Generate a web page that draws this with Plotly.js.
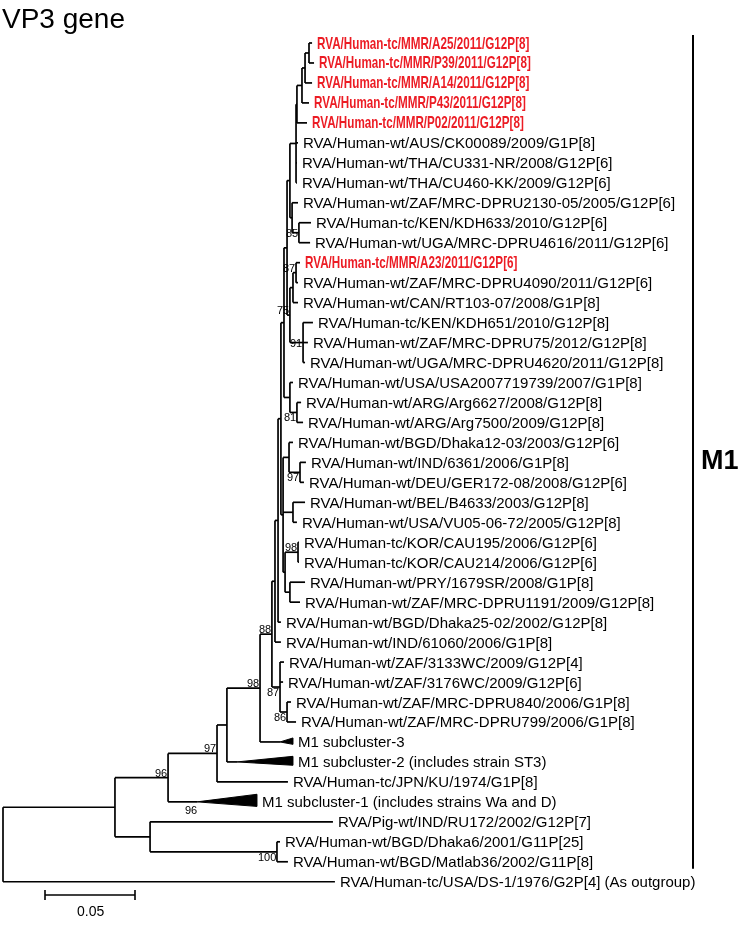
<!DOCTYPE html>
<html>
<head>
<meta charset="utf-8">
<script src="https://cdn.plot.ly/plotly-3.0.1.min.js"></script>
<style>
  body { margin: 0; background: #fff; }
  #myDiv { width: 741px; height: 930px; }
  #myDiv svg { will-change: transform; }
</style>
</head>
<body>
<div id="myDiv"></div>
<script>
//  ======== DATA ========
// leaves, top to bottom (row = index)
var leafNames = [
  'RVA/Human-tc/MMR/A25/2011/G12P[8]',
  'RVA/Human-tc/MMR/P39/2011/G12P[8]',
  'RVA/Human-tc/MMR/A14/2011/G12P[8]',
  'RVA/Human-tc/MMR/P43/2011/G12P[8]',
  'RVA/Human-tc/MMR/P02/2011/G12P[8]',
  'RVA/Human-wt/AUS/CK00089/2009/G1P[8]',
  'RVA/Human-wt/THA/CU331-NR/2008/G12P[6]',
  'RVA/Human-wt/THA/CU460-KK/2009/G12P[6]',
  'RVA/Human-wt/ZAF/MRC-DPRU2130-05/2005/G12P[6]',
  'RVA/Human-tc/KEN/KDH633/2010/G12P[6]',
  'RVA/Human-wt/UGA/MRC-DPRU4616/2011/G12P[6]',
  'RVA/Human-tc/MMR/A23/2011/G12P[6]',
  'RVA/Human-wt/ZAF/MRC-DPRU4090/2011/G12P[6]',
  'RVA/Human-wt/CAN/RT103-07/2008/G1P[8]',
  'RVA/Human-tc/KEN/KDH651/2010/G12P[8]',
  'RVA/Human-wt/ZAF/MRC-DPRU75/2012/G12P[8]',
  'RVA/Human-wt/UGA/MRC-DPRU4620/2011/G12P[8]',
  'RVA/Human-wt/USA/USA2007719739/2007/G1P[8]',
  'RVA/Human-wt/ARG/Arg6627/2008/G12P[8]',
  'RVA/Human-wt/ARG/Arg7500/2009/G12P[8]',
  'RVA/Human-wt/BGD/Dhaka12-03/2003/G12P[6]',
  'RVA/Human-wt/IND/6361/2006/G1P[8]',
  'RVA/Human-wt/DEU/GER172-08/2008/G12P[6]',
  'RVA/Human-wt/BEL/B4633/2003/G12P[8]',
  'RVA/Human-wt/USA/VU05-06-72/2005/G12P[8]',
  'RVA/Human-tc/KOR/CAU195/2006/G12P[6]',
  'RVA/Human-tc/KOR/CAU214/2006/G12P[6]',
  'RVA/Human-wt/PRY/1679SR/2008/G1P[8]',
  'RVA/Human-wt/ZAF/MRC-DPRU1191/2009/G12P[8]',
  'RVA/Human-wt/BGD/Dhaka25-02/2002/G12P[8]',
  'RVA/Human-wt/IND/61060/2006/G1P[8]',
  'RVA/Human-wt/ZAF/3133WC/2009/G12P[4]',
  'RVA/Human-wt/ZAF/3176WC/2009/G12P[6]',
  'RVA/Human-wt/ZAF/MRC-DPRU840/2006/G1P[8]',
  'RVA/Human-wt/ZAF/MRC-DPRU799/2006/G1P[8]',
  'M1 subcluster-3',
  'M1 subcluster-2 (includes strain ST3)',
  'RVA/Human-tc/JPN/KU/1974/G1P[8]',
  'M1 subcluster-1 (includes strains Wa and D)',
  'RVA/Pig-wt/IND/RU172/2002/G12P[7]',
  'RVA/Human-wt/BGD/Dhaka6/2001/G11P[25]',
  'RVA/Human-wt/BGD/Matlab36/2002/G11P[8]',
  'RVA/Human-tc/USA/DS-1/1976/G2P[4] (As outgroup)'
];
var leafParent = [
  'n1','n1','n2','n3','n4','n5','n5','n5','n8','n7','n7',
  'n10','n10','n11','n12','n12','n12','n15','n14','n14',
  'n17','n16','n16','n18','n18','n19','n19','n20','n20',
  'n32','n31','n30','n30','n29','n29',
  'n260','n227','n217','n168','n150','n277','n277','root'
];
// distance from root (substitutions/site)
var leafDepth = [
  0.1717,0.1728,0.1717,0.1700,0.1689,0.1639,0.1633,0.1633,0.1639,0.1711,0.1706,
  0.1650,0.1639,0.1639,0.1722,0.1694,0.1678,0.1611,0.1656,0.1667,
  0.1611,0.1683,0.1672,0.1678,0.1633,0.1644,0.1644,0.1678,0.1650,
  0.1544,0.1544,0.1561,0.1556,0.1600,0.1628,
  0.1611,0.1611,0.1583,0.1411,0.1833,0.1539,0.1583,0.1844
];
var studyStrains = [0, 1, 2, 3, 4, 11];

// collapsed subclusters: leaf row, depth where the triangle starts
var collapsedRows = [35, 36, 38];
var collapsedStart = [0.1539, 0.1300, 0.1078];

// internal nodes
var nodeIds    = ['root','n115','n168','n217','n227','n260','n88','n31','n32','n33','n36','n37',
                  'n9','n6','n5','n4','n3','n2','n1','n8','n7','n13','n11','n10','n12',
                  'n15','n14','n17','n16','n18','n21','n19','n20','n30','n29','n150','n277'];
var nodeParent = [null,'root','n115','n168','n217','n227','n260','n88','n31','n32','n33','n33',
                  'n36','n9','n6','n5','n4','n3','n2','n6','n8','n9','n13','n11','n13',
                  'n36','n15','n37','n17','n37','n37','n21','n21','n88','n30','n115','n150'];
var nodeDepth  = [0,0.0622,0.0917,0.1189,0.1244,0.1428,0.1494,0.1511,0.1528,0.1544,0.1561,0.1556,
                  0.1578,0.1594,0.1628,0.1633,0.1661,0.1678,0.1700,0.1606,0.1644,0.1594,0.1611,0.1628,0.1667,
                  0.1594,0.1633,0.1589,0.1650,0.1611,0.1567,0.1639,0.1594,0.1539,0.1578,0.0817,0.1522];

// bootstrap values
var bootNodes  = ['n168','n217','n260','n88','n30','n29','n277','n19','n16','n14','n12','n13','n10','n7'];
var bootValues = [96, 97, 98, 88, 87, 86, 100, 98, 97, 81, 91, 75, 87, 85];
var bootSide   = ['top','top','top','top','bot','bot','bot','top','bot','bot','mid','top','top','mid'];
var cladeBoot = 96; // on collapsed M1 subcluster-1

var scaleBar = 0.05;

//  ======== LAYOUT ========
var pxUnit = 1 / 1800;
var rowPx = 19.97, firstRowPx = 43;
var W = 741, H = 930;
var black = '#000';
var red = 'rgb(236,28,36)';
var font = 'Liberation Sans, Arial, sans-serif';

// build tree
var depth = {}, parent = {}, children = {}, yPos = {};
nodeIds.forEach(function(id, i) {
  depth[id] = nodeDepth[i];
  parent[id] = nodeParent[i];
  children[id] = [];
});
nodeIds.forEach(function(id) { if (parent[id]) children[parent[id]].push(id); });
leafNames.forEach(function(n, i) {
  var id = 'L' + i;
  depth[id] = leafDepth[i];
  parent[id] = leafParent[i];
  yPos[id] = i;
  children[leafParent[i]].push(id);
});

function placeY(id) {
  if (yPos[id] !== undefined) return yPos[id];
  var ys = children[id].map(placeY);
  yPos[id] = (Math.min.apply(null, ys) + Math.max.apply(null, ys)) / 2;
  return yPos[id];
}
placeY('root');

var lx = [], ly = [];
function seg(x0, y0, x1, y1) { lx.push(x0, x1, null); ly.push(y0, y1, null); }

var collapsedStartOf = {};
collapsedRows.forEach(function(r, i) { collapsedStartOf['L' + r] = collapsedStart[i]; });

Object.keys(parent).forEach(function(id) {
  var p = parent[id];
  if (p) {
    var endX = collapsedStartOf[id] !== undefined ? collapsedStartOf[id] : depth[id];
    seg(depth[p], yPos[id], endX, yPos[id]);
  }
  if (children[id] && children[id].length) {
    var ys = children[id].map(function(c) { return yPos[c]; });
    seg(depth[id], Math.min.apply(null, ys), depth[id], Math.max.apply(null, ys));
  }
});

var plotData = [{
  x: lx, y: ly, mode: 'lines', type: 'scatter',
  line: {color: black, width: 1.7}, hoverinfo: 'skip'
}];

// triangles for collapsed subclusters
var triSpread = [0.2, 0.28, 0.38];
collapsedRows.forEach(function(r, i) {
  var x0 = collapsedStart[i], x1 = leafDepth[r], h = triSpread[i];
  plotData.push({
    x: [x0, x1, x1, x0], y: [r, r - h, r + h * 0.6, r],
    mode: 'lines', type: 'scatter', fill: 'toself',
    fillcolor: black, line: {color: black, width: 1}, hoverinfo: 'skip'
  });
});

var annotations = [];
leafNames.forEach(function(name, i) {
  var isRed = studyStrains.indexOf(i) >= 0;
  annotations.push({
    x: leafDepth[i], y: i, xref: 'x', yref: 'y',
    text: isRed ? '<b>' + name + '</b>' : name,
    showarrow: false, xanchor: 'left', yanchor: 'middle', xshift: 3,
    font: isRed ? {family: font, size: 16, color: red}
                : {family: font, size: 15, color: black}
  });
});

bootNodes.forEach(function(id, i) {
  var side = bootSide[i];
  annotations.push({
    x: depth[id], y: yPos[id], xref: 'x', yref: 'y',
    text: String(bootValues[i]), showarrow: false,
    xanchor: 'right', yanchor: side == 'top' ? 'bottom' : (side == 'bot' ? 'top' : 'middle'),
    xshift: 1, yshift: side == 'top' ? -3 : (side == 'bot' ? 3 : 0),
    font: {family: font, size: 11, color: black}
  });
});
annotations.push({
  x: collapsedStart[2], y: collapsedRows[2], xref: 'x', yref: 'y',
  text: String(cladeBoot), showarrow: false, xanchor: 'right', yanchor: 'top',
  xshift: 2, yshift: 0, font: {family: font, size: 11, color: black}
});

// title, clade name, scale label
annotations.push({
  x: 0, y: 1, xref: 'paper', yref: 'paper', text: 'VP3 gene', showarrow: false,
  xanchor: 'left', yanchor: 'top', xshift: 0, yshift: -1,
  font: {family: font, size: 28, color: black}
});
var barX = 690 * pxUnit;
annotations.push({
  x: barX, y: 20.9, xref: 'x', yref: 'y', text: '<b>M1</b>', showarrow: false,
  xanchor: 'left', yanchor: 'middle', xshift: 6,
  font: {family: font, size: 27, color: black}
});
var sbX0 = 42 * pxUnit, sbY = (895 - firstRowPx) / rowPx;
annotations.push({
  x: sbX0 + scaleBar / 2, y: sbY, xref: 'x', yref: 'y', text: String(scaleBar), showarrow: false,
  xanchor: 'center', yanchor: 'top', yshift: -6,
  font: {family: font, size: 14, color: black}
});

var tick = 5 / rowPx;
var shapes = [
  {type: 'line', xref: 'x', yref: 'y', x0: barX, x1: barX, y0: -0.4, y1: 41.35,
   line: {color: black, width: 2}},
  {type: 'line', xref: 'x', yref: 'y', x0: sbX0, x1: sbX0 + scaleBar, y0: sbY, y1: sbY,
   line: {color: black, width: 1.6}},
  {type: 'line', xref: 'x', yref: 'y', x0: sbX0, x1: sbX0, y0: sbY - tick, y1: sbY + tick,
   line: {color: black, width: 1.6}},
  {type: 'line', xref: 'x', yref: 'y', x0: sbX0 + scaleBar, x1: sbX0 + scaleBar, y0: sbY - tick, y1: sbY + tick,
   line: {color: black, width: 1.6}}
];

var layout = {
  width: W, height: H,
  margin: {l: 0, r: 0, t: 0, b: 0, pad: 0},
  showlegend: false,
  xaxis: {
    range: [-3 * pxUnit, (W - 3) * pxUnit], autorange: false,
    showgrid: false, zeroline: false, visible: false, fixedrange: true
  },
  yaxis: {
    range: [(H - firstRowPx) / rowPx, -firstRowPx / rowPx], autorange: false,
    showgrid: false, zeroline: false, visible: false, fixedrange: true
  },
  plot_bgcolor: '#fff',
  paper_bgcolor: '#fff',
  annotations: annotations,
  shapes: shapes
};

Plotly.newPlot('myDiv', plotData, layout, {displayModeBar: false, staticPlot: true}).then(function(gd) {
  // the study strains are set in a narrow bold face in the original figure
  var narrow = 0.73;
  gd.querySelectorAll('.annotation-text').forEach(function(t) {
    if (t.style.fill && t.style.fill.indexOf('236') >= 0) {
      var b = t.getBBox();
      var x0 = b.x;
      t.setAttribute('transform', 'matrix(' + narrow + ',0,0,1,' + (x0 * (1 - narrow)) + ',0)');
    }
  });
});
</script>
</body>
</html>
